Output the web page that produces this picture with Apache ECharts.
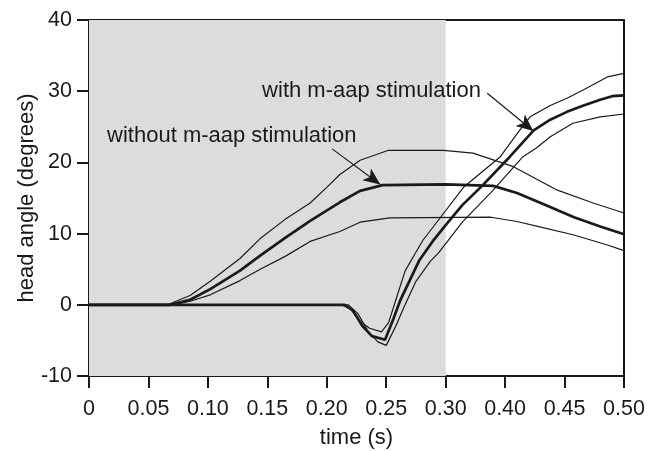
<!DOCTYPE html>
<html>
<head>
<meta charset="utf-8">
<script src="https://cdn.jsdelivr.net/npm/echarts@6/dist/echarts.min.js"></script>
<style>
  html, body { margin: 0; padding: 0; background: #fff; }
  #main { width: 662px; height: 451px; }
</style>
</head>
<body>
<div id="main"></div>
<script>
// x positions are axis positions (0..0.45); the printed labels skip 0.35 like the original figure
const tickLabels = ['0', '0.05', '0.10', '0.15', '0.20', '0.25', '0.30', '0.40', '0.45', '0.50'];

// without m-aap stimulation
const withoutMean = [[0, 0], [0.068, 0], [0.085, 0.7], [0.102, 2.2], [0.127, 4.8], [0.144, 6.9], [0.165, 9.4], [0.186, 11.8], [0.211, 14.4], [0.228, 16.0], [0.247, 16.8], [0.300, 16.9], [0.340, 16.7], [0.360, 15.7], [0.380, 14.3], [0.408, 12.3], [0.430, 11.0], [0.45, 9.9]];
const withoutUpper = [[0, 0], [0.066, 0], [0.085, 1.3], [0.102, 3.3], [0.127, 6.5], [0.144, 9.3], [0.165, 12.0], [0.186, 14.3], [0.200, 16.5], [0.211, 18.3], [0.228, 20.3], [0.252, 21.7], [0.298, 21.7], [0.323, 21.3], [0.357, 19.4], [0.394, 16.1], [0.424, 14.3], [0.45, 12.9]];
const withoutLower = [[0, 0], [0.070, 0], [0.085, 0.5], [0.102, 1.4], [0.127, 3.4], [0.144, 5.0], [0.165, 6.8], [0.186, 8.9], [0.211, 10.3], [0.228, 11.6], [0.253, 12.2], [0.338, 12.3], [0.360, 11.7], [0.380, 10.9], [0.408, 9.8], [0.436, 8.4], [0.45, 7.6]];

// with m-aap stimulation
const withMean = [[0, 0], [0.215, 0], [0.222, -0.8], [0.230, -3.0], [0.238, -4.4], [0.249, -4.9], [0.256, -2.0], [0.262, 0.7], [0.270, 3.5], [0.278, 6.3], [0.289, 8.9], [0.301, 11.4], [0.314, 14.0], [0.330, 16.6], [0.354, 20.8], [0.374, 24.5], [0.388, 26.0], [0.402, 27.1], [0.416, 28.0], [0.430, 28.8], [0.440, 29.3], [0.45, 29.4]];
const withUpper = [[0, 0], [0.212, 0], [0.220, -0.6], [0.228, -2.3], [0.236, -3.3], [0.246, -3.8], [0.252, -2.5], [0.260, 1.7], [0.266, 4.8], [0.274, 7.1], [0.281, 9.1], [0.293, 11.7], [0.315, 16.5], [0.346, 20.8], [0.360, 24.0], [0.371, 26.4], [0.388, 28.0], [0.402, 29.0], [0.416, 30.2], [0.436, 32.0], [0.45, 32.5]];
const withLower = [[0, 0], [0.218, 0], [0.226, -1.2], [0.235, -3.8], [0.243, -5.2], [0.250, -5.7], [0.258, -3.0], [0.265, -0.3], [0.275, 3.3], [0.287, 6.1], [0.294, 7.3], [0.302, 9.0], [0.314, 11.6], [0.340, 16.1], [0.365, 20.8], [0.376, 22.0], [0.388, 23.6], [0.407, 25.5], [0.430, 26.4], [0.45, 26.8]];

// annotations: text position (left edge) and arrow from/to
const labelTexts = ['without m-aap stimulation', 'with m-aap stimulation'];
const labelPos = [[0.0152, 23.7], [0.1456, 30.0]];
const arrowFrom = [[0.2045, 21.9], [0.335, 29.7]];
const arrowTo = [[0.245, 16.9], [0.3737, 24.4]];

const shadeX = [0, 0.30];

const font = "'Liberation Sans', Arial, sans-serif";
const ink = '#1a1a1a';

var myChart = echarts.init(document.getElementById('main'));

function line(data, width) {
    return {
        type: 'line',
        data: data,
        showSymbol: false,
        z: 3,
        silent: true,
        lineStyle: { color: ink, width: width },
        animation: false
    };
}

var option = {
    animation: false,
    grid: { left: 89, right: 38, top: 20, bottom: 75, outerBoundsMode: 'none', containLabel: false },
    xAxis: [
        {
            type: 'value', min: 0, max: 0.45, interval: 0.05,
            name: 'time (s)', nameLocation: 'middle', nameGap: 51, nameMoveOverlap: false,
            nameTextStyle: { fontFamily: font, fontSize: 22, color: ink },
            axisLine: { show: true, onZero: false, lineStyle: { color: ink, width: 2 } },
            axisTick: { show: true, length: 12, lineStyle: { color: ink, width: 2 } },
            axisLabel: {
                margin: 22, fontFamily: font, fontSize: 21.5, color: ink,
                formatter: function (v) { return tickLabels[Math.round(v / 0.05)]; }
            },
            splitLine: { show: false }
        },
        {
            type: 'value', min: 0, max: 0.45, position: 'top',
            axisLine: { show: true, onZero: false, lineStyle: { color: ink, width: 2 } },
            axisTick: { show: false }, axisLabel: { show: false }, splitLine: { show: false }
        }
    ],
    yAxis: [
        {
            type: 'value', min: -10, max: 40, interval: 10,
            name: 'head angle (degrees)', nameLocation: 'middle', nameGap: 51, nameMoveOverlap: false,
            nameTextStyle: { fontFamily: font, fontSize: 22, color: ink },
            axisLine: { show: true, onZero: false, lineStyle: { color: ink, width: 2 } },
            axisTick: { show: true, length: 12, lineStyle: { color: ink, width: 2 } },
            axisLabel: { margin: 17, fontFamily: font, fontSize: 21.5, color: ink },
            splitLine: { show: false }
        },
        {
            type: 'value', min: -10, max: 40, position: 'right',
            axisLine: { show: true, onZero: false, lineStyle: { color: ink, width: 2 } },
            axisTick: { show: false }, axisLabel: { show: false }, splitLine: { show: false }
        }
    ],
    series: [
        {
            // grey shaded window
            type: 'line', data: [], z: 1, silent: true,
            markArea: {
                silent: true,
                itemStyle: { color: '#dcdcdc' },
                data: [[{ xAxis: shadeX[0], yAxis: -10 }, { xAxis: shadeX[1], yAxis: 40 }]]
            }
        },
        line(withoutUpper, 1.2),
        line(withoutLower, 1.2),
        line(withoutMean, 2.7),
        line(withUpper, 1.2),
        line(withLower, 1.2),
        line(withMean, 2.7),
        {
            // annotation arrows and texts
            type: 'line', data: [], z: 4, silent: true,
            markLine: {
                silent: true,
                symbol: ['none', 'arrow'],
                symbolSize: [11, 17],
                lineStyle: { color: ink, width: 1.2, type: 'solid' },
                label: { show: false },
                data: arrowFrom.map(function (f, i) {
                    return [{ coord: f }, { coord: arrowTo[i] }];
                })
            },
            markPoint: {
                silent: true,
                symbol: 'circle', symbolSize: 0,
                label: {
                    show: true, position: 'right', distance: 0,
                    fontFamily: font, fontSize: 22, color: ink
                },
                data: labelPos.map(function (p, i) {
                    return { coord: p, value: labelTexts[i], label: { formatter: labelTexts[i] } };
                })
            }
        }
    ]
};

myChart.setOption(option);
</script>
</body>
</html>
